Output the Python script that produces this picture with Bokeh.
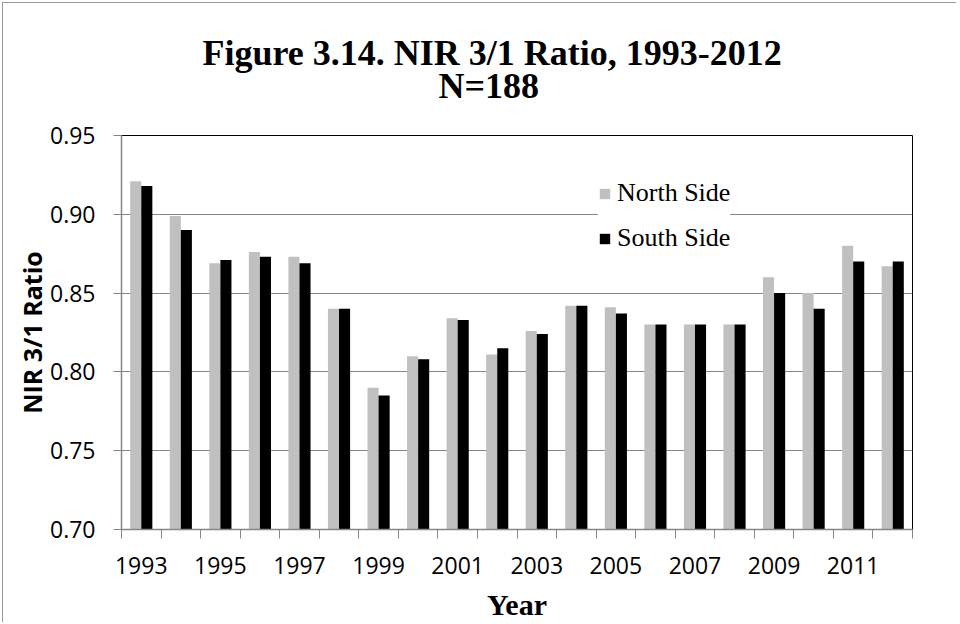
from bokeh.plotting import figure
from bokeh.models import (ColumnDataSource, Range1d, FixedTicker, Legend, LegendItem,
                          Title, NumeralTickFormatter)
from bokeh.transform import dodge
from bokeh.embed import file_html
from bokeh.resources import INLINE

# ---- data ----
years = [1993, 1994, 1995, 1996, 1997, 1998, 1999, 2000, 2001, 2002,
         2003, 2004, 2005, 2006, 2007, 2008, 2009, 2010, 2011, 2012]
north_side = [0.921, 0.899, 0.869, 0.876, 0.873, 0.840, 0.790, 0.810, 0.834, 0.811,
              0.826, 0.842, 0.841, 0.830, 0.830, 0.830, 0.860, 0.850, 0.880, 0.867]
south_side = [0.918, 0.890, 0.871, 0.873, 0.869, 0.840, 0.785, 0.808, 0.833, 0.815,
              0.824, 0.842, 0.837, 0.830, 0.830, 0.830, 0.850, 0.840, 0.870, 0.870]
x_tick_years = [1993, 1995, 1997, 1999, 2001, 2003, 2005, 2007, 2009, 2011]
x_tick_labels = ["1993", "1995", "1997", "1999", "2001", "2003", "2005", "2007", "2009", "2011"]
y_ticks = [0.70, 0.75, 0.80, 0.85, 0.90, 0.95]
series_names = ["North Side", "South Side"]
title_line1 = "Figure 3.14. NIR 3/1 Ratio, 1993-2012"
title_line2 = "N=188"

GRAY = "#c0c0c0"
GRID = "#868686"
SERIF = "Liberation Serif"
SANS = "Open Sans"

src = ColumnDataSource(dict(year=years, north=north_side, south=south_side))

p = figure(width=954, height=620,
           x_range=Range1d(years[0] - 0.5, years[-1] + 0.5),
           y_range=Range1d(y_ticks[0], y_ticks[-1]),
           output_backend="svg", toolbar_location=None,
           min_border_left=118, min_border_right=45,
           min_border_top=132, min_border_bottom=93)

p.styles = {"margin-left": "2px", "margin-top": "2px",
            "border-left": "1px solid #9a9a9a", "border-top": "1px solid #9a9a9a"}

bw = 0.28
rn = p.vbar(x=dodge("year", -bw / 2), top="north", bottom=y_ticks[0], width=bw,
            source=src, fill_color=GRAY, line_color=None)
rs = p.vbar(x=dodge("year", bw / 2), top="south", bottom=y_ticks[0], width=bw,
            source=src, fill_color="black", line_color=None)

# titles: spacer (closest to plot), then "N=188", then main line (p.title, outermost)
title_font = dict(text_font=SERIF, text_font_size="36px", text_font_style="bold",
                  text_color="black")
spacer = Title(text=" ", text_font_size="1px", standoff=31)
p.add_layout(spacer, "above")
t2 = Title(text=title_line2, align="left", offset=317, standoff=-9, **title_font)
p.add_layout(t2, "above")
p.title.text = title_line1
p.title.align = "left"
p.title.offset = 81
p.title.standoff = -9
p.title.text_font = SERIF
p.title.text_font_size = "36px"
p.title.text_font_style = "bold"
p.title.text_color = "black"

# x axis
xa = p.xaxis[0]
xa.ticker = FixedTicker(ticks=x_tick_years,
                        minor_ticks=[y - 0.5 for y in years] + [years[-1] + 0.5])
xa.major_label_overrides = {y: s for y, s in zip(x_tick_years, x_tick_labels)}
xa.major_tick_out = 0
xa.major_tick_in = 0
xa.minor_tick_out = 9
xa.minor_tick_in = 0
xa.minor_tick_line_color = GRID
xa.axis_line_color = GRID
xa.axis_line_width = 1.5
xa.major_label_text_font = SANS
xa.major_label_text_font_size = "23px"
xa.major_label_text_color = "black"
xa.major_label_standoff = 18
xa.axis_label = "Year"
xa.axis_label_text_font = SERIF
xa.axis_label_text_font_size = "30px"
xa.axis_label_text_font_style = "bold"
xa.axis_label_text_color = "black"
xa.axis_label_standoff = 11

# y axis
ya = p.yaxis[0]
ya.ticker = FixedTicker(ticks=y_ticks)
ya.formatter = NumeralTickFormatter(format="0.00")
ya.major_tick_out = 8
ya.major_tick_in = 0
ya.minor_tick_out = 0
ya.minor_tick_in = 0
ya.major_tick_line_color = GRID
ya.axis_line_color = GRID
ya.axis_line_width = 1.5
ya.major_label_text_font = SANS
ya.major_label_text_font_size = "23px"
ya.major_label_text_color = "black"
ya.major_label_standoff = 18
ya.axis_label = "NIR 3/1 Ratio"
ya.axis_label_text_font = SANS
ya.axis_label_text_font_size = "25px"
ya.axis_label_text_font_style = "bold"
ya.axis_label_text_color = "black"
ya.axis_label_standoff = -2

p.xgrid.grid_line_color = None
p.ygrid.grid_line_color = GRID
p.ygrid.grid_line_width = 1.2
p.outline_line_color = "black"
p.outline_line_width = 1

legend = Legend(items=[LegendItem(label=series_names[0], renderers=[rn]),
                       LegendItem(label=series_names[1], renderers=[rs])],
                location=(477, 276), margin=0, padding=12,
                glyph_width=13, glyph_height=13, label_standoff=6,
                spacing=15, label_text_font=SERIF, label_text_font_size="26px",
                label_text_color="black", border_line_color=None,
                background_fill_color="white", background_fill_alpha=1.0)
p.add_layout(legend)

open("out.html", "w").write(file_html(p, INLINE))
